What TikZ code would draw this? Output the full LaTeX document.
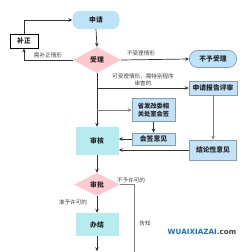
\documentclass[tikz,border=0pt]{standalone}
\usepackage{fontspec}
\newfontfamily\cjk{Noto Sans CJK SC}
\newfontfamily\wmfont{DejaVu Sans}
\usetikzlibrary{shapes.geometric,arrows.meta}
\definecolor{lblue}{HTML}{BDE3F8}
\definecolor{bblue}{HTML}{C3E2F8}
\definecolor{bedge}{HTML}{7F9FB5}
\definecolor{cyanf}{HTML}{B6ECF0}
\definecolor{pinkf}{HTML}{FFC9D0}
\definecolor{lnc}{HTML}{333333}
\definecolor{wmblue}{HTML}{1A6FC4}
\tikzset{
  box/.style={font=\cjk\bfseries\fontsize{6.8}{7.8}\selectfont, text=black!85, inner sep=1pt, align=center},
  roundbox/.style={box, rounded corners=7pt, fill=lblue},
  bluebox/.style={box, fill=bblue, draw=bedge, line width=0.6pt},
  cyanbox/.style={box, fill=cyanf},
  whitebox/.style={box, fill=white, draw=black, line width=0.8pt},
  dia/.style={box, diamond, fill=pinkf, inner sep=0pt},
  lab/.style={font=\cjk\fontsize{5.6}{6.4}\selectfont, text=black!75, inner sep=0.5pt, align=center},
  arr/.style={draw=lnc, line width=0.7pt, -{Stealth[length=4pt,width=3.5pt]}},
  ln/.style={draw=lnc, line width=0.7pt},
  garr/.style={draw=gray, line width=0.8pt, -{Stealth[length=4pt,width=3.5pt]}},
  gln/.style={draw=gray, line width=0.8pt}
}
\begin{document}
\begin{tikzpicture}[x=1pt,y=-1pt]
\useasboundingbox (0,0) rectangle (248,252);
\clip (0,0) rectangle (248,252);
\node[roundbox, minimum width=47pt, minimum height=18pt] (sq) at (96,20) {申请};
\node[whitebox, minimum width=28pt, minimum height=14pt] (bz) at (24,41) {补正};
\node[dia, minimum width=48pt, minimum height=26pt, aspect=1.85] (sl) at (97,60) {受理};
\node[box, rounded corners=8pt, fill=lblue, draw=bedge, line width=0.7pt, minimum width=47pt, minimum height=17pt] (bysl) at (213,59) {不予受理};
\node[bluebox, minimum width=48pt, minimum height=14pt] (bg) at (213,88) {申请报告评审};
\node[bluebox, minimum width=43pt, minimum height=23pt, font=\cjk\bfseries\fontsize{6.3}{7.3}\selectfont] (fg) at (153.5,110) {省发改委相\\关处室会签};
\node[bluebox, minimum width=43pt, minimum height=12pt] (hq) at (153.5,139) {会签意见};
\node[bluebox, minimum width=47pt, minimum height=20pt] (jl) at (213,150) {结论性意见};
\node[cyanbox, minimum width=43pt, minimum height=28pt] (sh) at (97,141) {审核};
\node[dia, minimum width=46pt, minimum height=23pt, aspect=2] (sp) at (97,184.5) {审批};
\node[cyanbox, minimum width=43pt, minimum height=23pt] (bj) at (97,224.5) {办结};
\node[cyanbox, minimum width=40pt, minimum height=23pt] (nx) at (97,263) {};
\coordinate (b1) at (97,88);
\coordinate (b2) at (97,110);
\coordinate (rt) at (134,184.5);
\coordinate (rb) at (134,256);
% connectors
\draw[arr] (bz.north) |- (sq.west);
\draw[arr] (sq.south) -- (sl.north);
\draw[arr] (sl.west) -| (bz.south);
\node[lab] (l1) at (48,55) {需补正情形};
\draw[arr] (sl.east) -- (bysl.west);
\node[lab] (l2) at (141,53) {不受理情形};
\draw[arr] (sl.south) -- (sh.north);
\draw[arr] (b1) -- (bg.west);
\node[lab] (l3) at (143,80) {可受理情形，需特别程序\\审查的};
\draw[garr] (b2) -- (fg.west);
\draw[arr] (fg.south) -- (hq.north);
\draw[garr] (bg.south) -- (jl.north);
\draw[arr] (hq.west) -- (hq.west -| sh.east);
\draw[arr] (jl.west) -- (jl.west -| sh.east);
\draw[arr] (sh.south) -- (sp.north);
\draw[gln] (sp.east) -- (rt) -- (rb);
\node[lab] (l4) at (131,180) {不予许可的};
\node[lab] (l5) at (145,223) {告知};
\draw[arr] (sp.south) -- (bj.north);
\node[lab] (l6) at (73,202) {准予许可的};
\draw[arr] (bj.south) -- (nx.north);
\node[font=\wmfont\bfseries\fontsize{7.2}{8}\selectfont, inner sep=0pt] (wm) at (202,232) {\textcolor{wmblue}{WUAIXIAZAI}\textcolor{black!75}{.com}};
\end{tikzpicture}
\end{document}
